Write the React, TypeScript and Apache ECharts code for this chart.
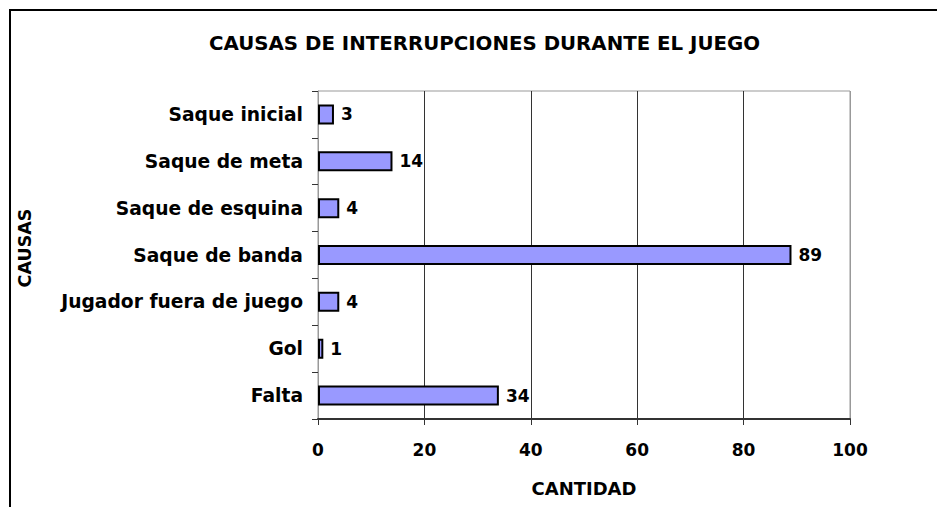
import React, { useEffect, useRef } from "react";
import * as echarts from "echarts";

const categories = [
  "Saque inicial",
  "Saque de meta",
  "Saque de esquina",
  "Saque de banda",
  "Jugador fuera de juego",
  "Gol",
  "Falta",
];
const values = [3, 14, 4, 89, 4, 1, 34];
const titleText = "CAUSAS DE INTERRUPCIONES DURANTE EL JUEGO";
const xName = "CANTIDAD";
const yName = "CAUSAS";

const FONT = "DejaVu Sans";

export default function App() {
  const ref = useRef<HTMLDivElement>(null);
  useEffect(() => {
    if (!ref.current) return;
    const chart = echarts.init(ref.current, undefined, { renderer: "svg" });
    chart.setOption({
      animation: false,
      backgroundColor: "#ffffff",
      title: {
        text: titleText,
        left: 204,
        top: 28,
        textStyle: { fontFamily: FONT, fontWeight: "bold", fontSize: 19.8, color: "#000" },
      },
      graphic: [
        {
          type: "rect",
          silent: true,
          shape: { x: 10, y: 10, width: 960, height: 540 },
          style: { fill: "none", stroke: "#000", lineWidth: 2 },
        },
      ],
      grid: {
        left: 318,
        top: 91,
        width: 532,
        height: 328,
        show: true,
        borderColor: "#999",
        borderWidth: 1,
        backgroundColor: "transparent",
      },
      xAxis: {
        type: "value",
        min: 0,
        max: 100,
        interval: 20,
        name: xName,
        nameLocation: "middle",
        nameGap: 60,
        nameTextStyle: { fontFamily: FONT, fontWeight: "bold", fontSize: 18, color: "#000" },
        axisLine: { show: true, lineStyle: { color: "#333", width: 2 } },
        axisTick: { show: true, length: 6, lineStyle: { color: "#333", width: 1 } },
        axisLabel: { margin: 22, fontFamily: FONT, fontWeight: "bold", fontSize: 17, color: "#000" },
        splitLine: {
          show: true,
          lineStyle: { color: ["#999", "#333", "#333", "#333", "#333", "#999"], width: 1 },
        },
      },
      yAxis: {
        type: "category",
        data: categories,
        inverse: true,
        name: yName,
        nameLocation: "middle",
        nameGap: 284,
        nameRotate: 90,
        nameTextStyle: {
          fontFamily: FONT,
          fontWeight: "bold",
          fontSize: 17.5,
          color: "#000",
          padding: [0, 0, 0, 14],
        },
        axisLine: { show: true, lineStyle: { color: "#999", width: 1 } },
        axisTick: { show: true, length: 6, lineStyle: { color: "#333", width: 1 } },
        axisLabel: { margin: 15, fontFamily: FONT, fontWeight: "bold", fontSize: 18.7, color: "#000" },
        splitLine: { show: false },
      },
      series: [
        {
          type: "bar",
          data: values,
          barWidth: 20,
          itemStyle: { color: "#9999ff", borderColor: "#000", borderWidth: 2 },
          label: {
            show: true,
            position: "right",
            distance: 7,
            fontFamily: FONT,
            fontWeight: "bold",
            fontSize: 17,
            color: "#000",
          },
        },
      ],
    });
    return () => chart.dispose();
  }, []);
  return (
    <div
      ref={ref}
      style={{ position: "fixed", left: 0, top: 0, width: 937, height: 507 }}
    />
  );
}
